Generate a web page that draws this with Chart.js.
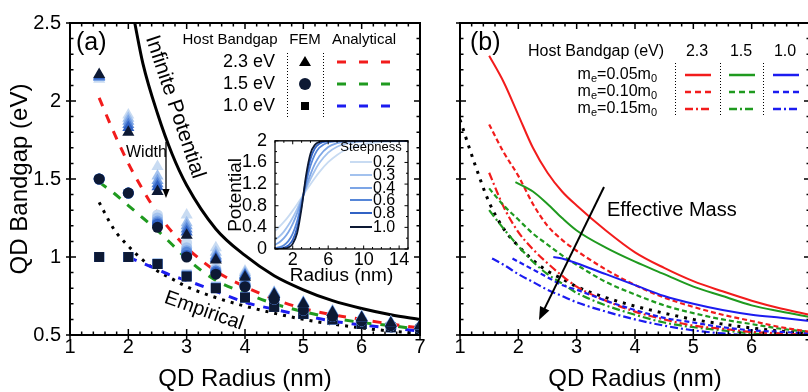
<!DOCTYPE html>
<html>
<head>
<meta charset="utf-8">
<script src="https://cdn.jsdelivr.net/npm/chart.js@4.4.1/dist/chart.umd.min.js"></script>
<style>
html, body { margin: 0; padding: 0; background: #fff; overflow: hidden; width: 808px; height: 392px; }
canvas { position: absolute; }
#chartA { left: 0; top: 0; }
#chartB { left: 440px; top: 0; }
#inset { left: 225px; top: 122px; }
</style>
</head>
<body>
<canvas id="chartA" width="430" height="392"></canvas>
<canvas id="chartB" width="380" height="392"></canvas>
<canvas id="inset" width="190" height="170"></canvas>
<script>
// ---- panel (a) : FEM markers and analytical curves ----
let femRadius = [1.5, 2, 2.5, 3, 3.5, 4, 4.5, 5, 5.5, 6, 6.5, 7];
let steepness = ["0.2", "0.3", "0.4", "0.6", "0.8", "1.0"];
let steepColors = ["#c8dbf2", "#a3c2ee", "#7ca5e6", "#5686d8", "#3162c4", "#0d1934"];

// one row per steepness, 0.2 ... 1.0
let femTri = [
    [2.14, 1.91, 1.58, 1.27, 1.06, 0.91, 0.775, 0.71, 0.655, 0.62, 0.585, 0.565],
    [2.15, 1.89, 1.52, 1.22, 1.03, 0.90, 0.77, 0.71, 0.65, 0.615, 0.58, 0.56],
    [2.15, 1.87, 1.49, 1.20, 1.01, 0.89, 0.77, 0.705, 0.65, 0.615, 0.58, 0.56],
    [2.16, 1.85, 1.47, 1.18, 1.00, 0.885, 0.765, 0.705, 0.645, 0.61, 0.575, 0.56],
    [2.16, 1.83, 1.45, 1.16, 0.99, 0.88, 0.76, 0.70, 0.645, 0.61, 0.575, 0.56],
    [2.17, 1.80, 1.42, 1.14, 0.98, 0.87, 0.76, 0.70, 0.645, 0.61, 0.575, 0.56]
];
let femCirc = [
    [1.50, 1.41, 1.27, 1.09, 0.93, 0.83, 0.735, 0.665, 0.62, 0.59, 0.56, 0.545],
    [1.50, 1.41, 1.25, 1.06, 0.92, 0.83, 0.73, 0.66, 0.62, 0.59, 0.56, 0.545],
    [1.50, 1.41, 1.23, 1.04, 0.91, 0.82, 0.73, 0.66, 0.62, 0.59, 0.56, 0.545],
    [1.50, 1.41, 1.22, 1.03, 0.91, 0.82, 0.73, 0.66, 0.62, 0.59, 0.56, 0.545],
    [1.50, 1.41, 1.21, 1.01, 0.90, 0.81, 0.73, 0.66, 0.62, 0.59, 0.56, 0.545],
    [1.50, 1.41, 1.19, 1.00, 0.89, 0.81, 0.73, 0.66, 0.62, 0.59, 0.56, 0.545]
];
let femSq = [
    [1.00, 1.00, 0.96, 0.89, 0.81, 0.745, 0.68, 0.635, 0.60, 0.57, 0.55, 0.53],
    [1.00, 1.00, 0.96, 0.885, 0.81, 0.745, 0.68, 0.635, 0.60, 0.57, 0.55, 0.53],
    [1.00, 1.00, 0.955, 0.88, 0.805, 0.74, 0.68, 0.635, 0.60, 0.57, 0.55, 0.53],
    [1.00, 1.00, 0.955, 0.88, 0.80, 0.74, 0.68, 0.635, 0.60, 0.57, 0.55, 0.53],
    [1.00, 1.00, 0.955, 0.875, 0.80, 0.74, 0.68, 0.635, 0.60, 0.57, 0.55, 0.53],
    [1.00, 1.00, 0.955, 0.875, 0.80, 0.74, 0.68, 0.635, 0.60, 0.57, 0.55, 0.53]
];

let anaRadius = [1.5, 1.75, 2, 2.25, 2.5, 2.75, 3, 3.5, 4, 4.5, 5, 5.5, 6, 6.5, 7];
let ana23 = [2.02, 1.80, 1.60, 1.43, 1.28, 1.16, 1.06, 0.91, 0.81, 0.73, 0.67, 0.63, 0.60, 0.57, 0.545];
let ana15 = [1.48, 1.41, 1.33, 1.25, 1.17, 1.08, 0.99, 0.85, 0.77, 0.70, 0.65, 0.61, 0.58, 0.56, 0.535];
let ana10 = [null, null, 1.00, 0.96, 0.92, 0.88, 0.85, 0.78, 0.71, 0.665, 0.625, 0.59, 0.565, 0.545, 0.525];

let empRadius = [1, 1.25, 1.5, 1.75, 2, 2.25, 2.5, 2.75, 3, 3.5, 4, 4.5, 5, 5.5, 6, 6.5, 7];
let empirical = [1.88, 1.60, 1.35, 1.18, 1.07, 0.98, 0.91, 0.86, 0.81, 0.74, 0.685, 0.64, 0.60, 0.57, 0.545, 0.525, 0.51];

let infRadius = [2.1, 2.25, 2.5, 2.75, 3, 3.5, 4, 4.5, 5, 5.5, 6, 6.5, 7];
let infinite = [2.52, 2.24, 1.92, 1.66, 1.46, 1.18, 1.01, 0.88, 0.79, 0.72, 0.67, 0.63, 0.60];

let hostLabels = ["2.3 eV", "1.5 eV", "1.0 eV"];
let hostColors = ["#f21c1c", "#1f9a1f", "#1c1cf0"];

// ---- inset : potential profiles ----
let insetRadius = [0, 0.5, 1, 1.5, 2, 2.5, 3, 3.5, 4, 4.5, 5, 6, 7, 8, 10, 12, 15];
let insetXTicks = [2, 6, 10, 14];
let potential = [
    [0.336, 0.412, 0.500, 0.599, 0.709, 0.827, 0.950, 1.075, 1.197, 1.314, 1.422, 1.604, 1.739, 1.834, 1.935, 1.976, 1.995],
    [0.166, 0.233, 0.322, 0.437, 0.578, 0.743, 0.925, 1.112, 1.291, 1.452, 1.588, 1.782, 1.891, 1.947, 1.988, 1.997, 2.0],
    [0.078, 0.126, 0.200, 0.309, 0.463, 0.664, 0.900, 1.149, 1.380, 1.572, 1.716, 1.885, 1.956, 1.984, 1.998, 2.0, 2.0],
    [0.016, 0.034, 0.071, 0.145, 0.284, 0.518, 0.851, 1.221, 1.537, 1.751, 1.874, 1.970, 1.993, 1.998, 2.0, 2.0, 2.0],
    [0.003, 0.009, 0.024, 0.065, 0.166, 0.396, 0.803, 1.291, 1.664, 1.862, 1.947, 1.993, 2.0, 2.0, 2.0, 2.0, 2.0],
    [0.001, 0.002, 0.008, 0.028, 0.095, 0.296, 0.755, 1.358, 1.762, 1.925, 1.978, 1.998, 2.0, 2.0, 2.0, 2.0, 2.0]
];

// ---- panel (b) : effective mass ----
let massLabels = ["0.05", "0.10", "0.15"];
let bandLabels = ["2.3", "1.5", "1.0"];
let massRadius = [1.5, 1.75, 2, 2.25, 2.5, 2.75, 3, 3.5, 4, 4.5, 5, 5.5, 6, 6.5, 7];
let red005 = [2.29, 2.12, 1.91, 1.70, 1.54, 1.42, 1.33, 1.17, 1.03, 0.93, 0.845, 0.78, 0.72, 0.67, 0.63];
let red010 = [1.85, 1.67, 1.52, 1.34, 1.20, 1.11, 1.04, 0.92, 0.82, 0.74, 0.68, 0.63, 0.59, 0.55, 0.52];
let red015 = [1.54, 1.32, 1.16, 1.05, 0.96, 0.88, 0.81, 0.72, 0.65, 0.60, 0.56, 0.54, 0.52, 0.51, 0.50];
let green010 = [1.44, 1.33, 1.24, 1.15, 1.08, 1.01, 0.95, 0.84, 0.76, 0.69, 0.64, 0.60, 0.57, 0.54, 0.52];
let green015 = [1.30, 1.18, 1.07, 0.97, 0.89, 0.83, 0.77, 0.69, 0.63, 0.58, 0.55, 0.53, 0.51, 0.50, 0.50];
let green005Radius = [1.95, 2.25, 2.5, 2.75, 3, 3.5, 4, 4.5, 5, 5.5, 6, 6.5, 7];
let green005 = [1.48, 1.42, 1.34, 1.25, 1.17, 1.06, 0.97, 0.89, 0.81, 0.75, 0.69, 0.65, 0.615];
let blue005Radius = [2.6, 2.75, 3, 3.5, 4, 4.5, 5, 5.5, 6, 6.5, 7];
let blue005 = [1.00, 0.99, 0.96, 0.89, 0.82, 0.75, 0.70, 0.66, 0.63, 0.61, 0.59];
let blue010Radius = [1.9, 2, 2.25, 2.5, 2.75, 3, 3.5, 4, 4.5, 5, 5.5, 6, 6.5, 7];
let blue010 = [0.99, 0.97, 0.92, 0.87, 0.82, 0.79, 0.72, 0.66, 0.61, 0.58, 0.55, 0.53, 0.52, 0.51];
let blue015Radius = [1.55, 1.75, 2, 2.25, 2.5, 2.75, 3, 3.5, 4, 4.5, 5, 5.5, 6, 6.5, 7];
let blue015 = [0.99, 0.95, 0.89, 0.84, 0.79, 0.75, 0.71, 0.65, 0.60, 0.56, 0.53, 0.51, 0.50, 0.50, 0.50];

const FONT = "'Liberation Sans', Arial, sans-serif";
Chart.defaults.font.family = FONT;
Chart.defaults.color = "#000";

const DASH = [9, 9];
const SHORT = [5, 3];
const DASHDOT = [8, 3, 2, 3];
const DOTS = [3, 6];

function pts(xs, ys) {
    let out = [];
    for (let i = 0; i < xs.length; i++) {
        if (ys[i] !== null) out.push({ x: xs[i], y: ys[i] });
    }
    return out;
}

function lineSet(xs, ys, color, width, dash) {
    return {
        data: pts(xs, ys), showLine: true, borderColor: color, borderWidth: width,
        borderDash: dash || [], pointRadius: 0, cubicInterpolationMode: "monotone", fill: false
    };
}

function steps(min, max, step) {
    let out = [];
    for (let i = 0; min + i * step <= max + 1e-9; i++) out.push(+(min + i * step).toFixed(6));
    return out;
}

// frame with inward ticks on all four sides
const framePlugin = {
    id: "frame",
    afterDraw(chart, args, o) {
        const ctx = chart.ctx, a = chart.chartArea;
        const x = chart.scales.x, y = chart.scales.y;
        ctx.save();
        ctx.strokeStyle = "#000";
        ctx.lineWidth = o.tw;
        ctx.beginPath();
        const isMajor = (v, list) => list.some(m => Math.abs(m - v) < 1e-6);
        o.xMinor.forEach(v => {
            const px = x.getPixelForValue(v);
            const mj = isMajor(v, o.xMajor);
            const len = mj ? o.major : o.minor;
            ctx.moveTo(px, a.bottom + (mj ? o.out : 0)); ctx.lineTo(px, a.bottom - len);
            ctx.moveTo(px, a.top); ctx.lineTo(px, a.top + len);
        });
        o.yMinor.forEach(v => {
            const py = y.getPixelForValue(v);
            const mj = isMajor(v, o.yMajor);
            const len = mj ? o.major : o.minor;
            ctx.moveTo(a.left - (mj ? o.out : 0), py); ctx.lineTo(a.left + len, py);
            ctx.moveTo(a.right, py); ctx.lineTo(a.right - len, py);
        });
        ctx.stroke();
        ctx.lineWidth = o.lw;
        ctx.strokeRect(a.left, a.top, a.right - a.left, a.bottom - a.top);
        ctx.restore();
    }
};

function arrow(ctx, x1, y1, x2, y2, head, width) {
    const ang = Math.atan2(y2 - y1, x2 - x1);
    ctx.save();
    ctx.lineWidth = width;
    ctx.strokeStyle = "#000";
    ctx.fillStyle = "#000";
    ctx.beginPath();
    ctx.moveTo(x1, y1);
    ctx.lineTo(x2 - Math.cos(ang) * head * 0.8, y2 - Math.sin(ang) * head * 0.8);
    ctx.stroke();
    ctx.beginPath();
    ctx.moveTo(x2, y2);
    ctx.lineTo(x2 - head * Math.cos(ang) + head * 0.4 * Math.sin(ang), y2 - head * Math.sin(ang) - head * 0.4 * Math.cos(ang));
    ctx.lineTo(x2 - head * Math.cos(ang) - head * 0.4 * Math.sin(ang), y2 - head * Math.sin(ang) + head * 0.4 * Math.cos(ang));
    ctx.closePath();
    ctx.fill();
    ctx.restore();
}

function vDotted(ctx, x, y1, y2) {
    ctx.save();
    ctx.strokeStyle = "#000";
    ctx.lineWidth = 1;
    ctx.setLineDash([1, 2]);
    ctx.beginPath();
    ctx.moveTo(x + 0.5, y1); ctx.lineTo(x + 0.5, y2);
    ctx.stroke();
    ctx.restore();
}

function sample(ctx, x1, x2, y, color, width, dash) {
    ctx.save();
    ctx.strokeStyle = color;
    ctx.lineWidth = width;
    ctx.setLineDash(dash);
    ctx.beginPath();
    ctx.moveTo(x1, y); ctx.lineTo(x2, y);
    ctx.stroke();
    ctx.restore();
}

// ---- panel (a) annotations ----
const annotA = {
    id: "annotA",
    afterDraw(chart) {
        const ctx = chart.ctx;
        ctx.save();
        ctx.fillStyle = "#000";
        ctx.textBaseline = "middle";
        ctx.font = "25px " + FONT;
        ctx.textAlign = "left";
        ctx.fillText("(a)", 76, 43);

        ctx.font = "15px " + FONT;
        ctx.textAlign = "center";
        ctx.fillText("Host Bandgap", 230, 40);
        ctx.fillText("FEM", 305, 40);
        ctx.fillText("Analytical", 364, 40);

        const rows = [62, 84, 106];
        ctx.font = "18px " + FONT;
        ctx.textAlign = "right";
        hostLabels.forEach((t, i) => ctx.fillText(t, 275, rows[i]));
        vDotted(ctx, 287, 53, 118);
        vDotted(ctx, 323, 53, 118);
        // FEM symbols
        ctx.fillStyle = "#000";
        ctx.beginPath();
        ctx.moveTo(305, rows[0] - 6); ctx.lineTo(311, rows[0] + 4); ctx.lineTo(299, rows[0] + 4); ctx.closePath();
        ctx.fill();
        ctx.fillStyle = "#0d1934";
        ctx.beginPath(); ctx.arc(305, rows[1], 6, 0, Math.PI * 2); ctx.fill();
        ctx.fillStyle = "#000";
        ctx.fillRect(301, rows[2] - 4, 8, 8);
        hostColors.forEach((c, i) => sample(ctx, 337, 390, rows[i], c, 3, [9, 13]));

        ctx.fillStyle = "#000";
        ctx.font = "16px " + FONT;
        ctx.textAlign = "left";
        ctx.fillText("Width", 126, 153);
        arrow(ctx, 166, 142, 166, 198, 9, 1.3);

        ctx.font = "21px " + FONT;
        ctx.textAlign = "center";
        ctx.translate(175, 107);
        ctx.rotate(71.4 * Math.PI / 180);
        ctx.fillText("Infinite Potential", 0, 0);
        ctx.setTransform(1, 0, 0, 1, 0, 0);
        ctx.font = "20px " + FONT;
        ctx.translate(204, 311);
        ctx.rotate(19.3 * Math.PI / 180);
        ctx.fillText("Empirical", 0, 0);
        ctx.restore();
    }
};

// ---- panel (b) annotations ----
function massText(ctx, xr, y, val) {
    const big = "16px " + FONT, small = "11px " + FONT;
    const parts = [["m", big, 0], ["e", small, 4], ["=" + val + "m", big, 0], ["0", small, 4]];
    let w = 0;
    parts.forEach(p => { ctx.font = p[1]; w += ctx.measureText(p[0]).width; });
    let x = xr - w;
    ctx.textAlign = "left";
    parts.forEach(p => {
        ctx.font = p[1];
        ctx.fillText(p[0], x, y + p[2]);
        x += ctx.measureText(p[0]).width;
    });
}

const annotB = {
    id: "annotB",
    afterDraw(chart) {
        const ctx = chart.ctx;
        ctx.save();
        ctx.fillStyle = "#000";
        ctx.textBaseline = "middle";
        ctx.font = "25px " + FONT;
        ctx.textAlign = "left";
        ctx.fillText("(b)", 30, 43);

        ctx.font = "16px " + FONT;
        ctx.fillText("Host Bandgap (eV)", 88, 52);
        ctx.textAlign = "center";
        const cols = [257, 301, 345];
        bandLabels.forEach((t, i) => ctx.fillText(t, cols[i], 52));
        const rows = [75, 92, 109];
        massLabels.forEach((m, i) => massText(ctx, 217, rows[i], m));
        [235, 280, 323].forEach(x => vDotted(ctx, x, 63, 116));
        const dashes = [[], [6, 4], [8, 3, 2, 3]];
        hostColors.forEach((c, j) => {
            rows.forEach((y, i) => sample(ctx, cols[j] - 12, cols[j] + 14, y, c, 2.5, dashes[i]));
        });

        arrow(ctx, 164, 187, 99, 320, 13, 2);
        ctx.fillStyle = "#000";
        ctx.font = "20px " + FONT;
        ctx.textAlign = "left";
        ctx.fillText("Effective Mass", 167, 210);
        ctx.restore();
    }
};

// ---- inset annotations ----
const annotInset = {
    id: "annotInset",
    beforeDatasetsDraw(chart) {
        const a = chart.chartArea, ctx = chart.ctx;
        ctx.save();
        ctx.fillStyle = "#fff";
        ctx.fillRect(a.left, a.top, a.right - a.left, a.bottom - a.top);
        ctx.restore();
    },
    afterDraw(chart) {
        const ctx = chart.ctx;
        ctx.save();
        ctx.fillStyle = "#000";
        ctx.textBaseline = "middle";
        ctx.font = "13px " + FONT;
        ctx.textAlign = "center";
        ctx.fillText("Steepness", 146, 25);
        const rows = [40, 53, 66, 78, 91, 105];
        ctx.font = "16px " + FONT;
        ctx.textAlign = "left";
        steepness.forEach((s, i) => {
            sample(ctx, 125, 147, rows[i], steepColors[i], 2, []);
            ctx.fillStyle = "#000";
            ctx.fillText(s, 148, rows[i] + 1);
        });
        ctx.restore();
    }
};

// ---- datasets ----
let setsA = [];
[[femTri, "triangle", 7], [femCirc, "circle", 5.5], [femSq, "rect", 7]].forEach(([rows, style, r]) => {
    for (let s = rows.length - 1; s >= 0; s--) {
        setsA.push({
            data: pts(femRadius, rows[s]), showLine: false, pointStyle: style, pointRadius: r,
            pointBackgroundColor: steepColors[s], pointBorderWidth: 0, pointBorderColor: steepColors[s]
        });
    }
});
setsA.push(lineSet(anaRadius, ana23, hostColors[0], 3, DASH));
setsA.push(lineSet(anaRadius, ana15, hostColors[1], 3, DASH));
setsA.push(lineSet(anaRadius, ana10, hostColors[2], 3, DASH));
setsA.push(lineSet(empRadius.slice(2), empirical.slice(2), "#000", 3, DOTS));
setsA.push(lineSet(infRadius, infinite, "#000", 3, []));

let setsB = [
    lineSet(massRadius, red005, hostColors[0], 2, []),
    lineSet(green005Radius, green005, hostColors[1], 2, []),
    lineSet(blue005Radius, blue005, hostColors[2], 2, []),
    lineSet(massRadius, red010, hostColors[0], 2.2, SHORT),
    lineSet(massRadius, green010, hostColors[1], 2.2, SHORT),
    lineSet(blue010Radius, blue010, hostColors[2], 2.2, SHORT),
    lineSet(massRadius, red015, hostColors[0], 2.2, DASHDOT),
    lineSet(massRadius, green015, hostColors[1], 2.2, DASHDOT),
    lineSet(blue015Radius, blue015, hostColors[2], 2.2, DASHDOT),
    lineSet(empRadius, empirical, "#000", 3, DOTS)
];

let setsInset = [];
for (let s = potential.length - 1; s >= 0; s--) {
    setsInset.push(lineSet(insetRadius, potential[s], steepColors[s], 1.8, []));
}

const noGrid = { display: false, drawTicks: false, tickLength: 0 };

function mainScales(showY) {
    return {
        x: {
            type: "linear", min: 1, max: 7,
            grid: noGrid, border: { display: false },
            ticks: { stepSize: 1, font: { size: 20 }, padding: 0, maxRotation: 0, autoSkip: false, callback: v => String(v) },
            title: { display: true, text: "QD Radius (nm)", font: { size: 24 }, padding: { top: 0, bottom: -2 } },
            afterFit: s => { s.height = 57; }
        },
        y: {
            type: "linear", min: 0.5, max: 2.5,
            grid: noGrid, border: { display: false },
            ticks: { display: showY, stepSize: 0.5, font: { size: 20 }, padding: 9, autoSkip: false, callback: v => String(v) },
            title: { display: showY, text: "QD Bandgap (eV)", font: { size: 24 }, padding: { top: 6, bottom: 0 } },
            afterFit: s => { s.width = showY ? 70 : 20; }
        }
    };
}

const mainFrame = {
    tw: 1.5, lw: 2, major: 6, minor: 3.5, out: 4,
    xMajor: steps(1, 7, 1), xMinor: steps(1, 7, 0.2),
    yMajor: steps(0.5, 2.5, 0.5), yMinor: steps(0.5, 2.5, 0.1)
};

new Chart(document.getElementById("chartA"), {
    type: "scatter",
    data: { datasets: setsA },
    options: {
        responsive: false, animation: false, events: [],
        layout: { padding: { top: 23, right: 10, left: 0, bottom: 0 } },
        plugins: { legend: { display: false }, tooltip: { enabled: false }, frame: mainFrame },
        scales: mainScales(true)
    },
    plugins: [framePlugin, annotA]
});

new Chart(document.getElementById("chartB"), {
    type: "scatter",
    data: { datasets: setsB },
    options: {
        responsive: false, animation: false, events: [],
        layout: { padding: { top: 23, right: 10, left: 0, bottom: 0 } },
        plugins: { legend: { display: false }, tooltip: { enabled: false }, frame: mainFrame },
        scales: mainScales(false)
    },
    plugins: [framePlugin, annotB]
});

new Chart(document.getElementById("inset"), {
    type: "scatter",
    data: { datasets: setsInset },
    options: {
        responsive: false, animation: false, events: [],
        layout: { padding: { top: 8, right: 7, left: 0, bottom: 0 } },
        plugins: {
            legend: { display: false }, tooltip: { enabled: false },
            frame: {
                tw: 1, lw: 1.3, major: 3.5, minor: 2, out: 0,
                xMajor: insetXTicks, xMinor: steps(0, 15, 1),
                yMajor: steps(0, 2, 0.4), yMinor: steps(0, 2, 0.2)
            }
        },
        scales: {
            x: {
                type: "linear", min: 0, max: 15,
                grid: noGrid, border: { display: false },
                afterBuildTicks: s => { s.ticks = insetXTicks.map(v => ({ value: v })); },
                ticks: { font: { size: 18 }, padding: 0, maxRotation: 0, autoSkip: false, callback: v => String(v) },
                title: { display: true, text: "Radius (nm)", font: { size: 19 }, padding: { top: 0, bottom: 5 } },
                afterFit: s => { s.height = 43; }
            },
            y: {
                type: "linear", min: 0, max: 2,
                grid: noGrid, border: { display: false },
                ticks: { stepSize: 0.4, font: { size: 18 }, padding: 8, autoSkip: false, callback: v => String(v) },
                title: { display: true, text: "Potential", font: { size: 19 }, padding: { top: -1, bottom: 0 } },
                afterFit: s => { s.width = 50; }
            }
        }
    },
    plugins: [framePlugin, annotInset]
});
</script>
</body>
</html>
